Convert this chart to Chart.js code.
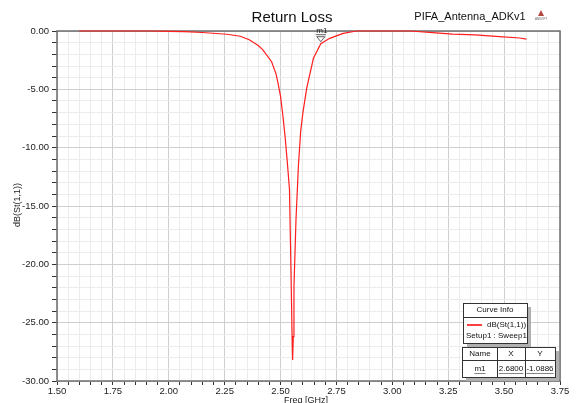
<!DOCTYPE html>
<html>
<head>
<meta charset="utf-8">
<script src="https://cdn.jsdelivr.net/npm/chart.js@4/dist/chart.umd.min.js"></script>
<style>
  html, body { margin: 0; padding: 0; background: #fff; }
  #wrap { width: 577px; height: 403px; position: relative; }
</style>
</head>
<body>
<div id="wrap"><canvas id="s11-chart"></canvas></div>
<script>
// sweep (GHz / dB)
const freqs = [1.60, 1.70, 1.80, 1.92, 2.00, 2.07, 2.15, 2.26, 2.32, 2.36, 2.40, 2.42, 2.46, 2.48, 2.49,
  2.50, 2.51, 2.52, 2.53, 2.54, 2.546, 2.552, 2.554, 2.557, 2.56, 2.569, 2.58, 2.59, 2.60, 2.617,
  2.647, 2.68, 2.72, 2.78, 2.84, 2.95, 3.08, 3.18, 3.27, 3.37, 3.48, 3.57, 3.60];
const s11 = [0, 0, 0, 0, -0.03, -0.06, -0.13, -0.28, -0.45, -0.75, -1.25, -1.6, -2.63, -3.7, -4.6,
  -5.6, -7.2, -9.0, -11.2, -13.6, -19.9, -26.5, -28.2, -26.2, -21.9, -16.2, -11.5, -8.6, -7.0, -4.9,
  -2.34, -1.09, -0.63, -0.2, 0, 0, 0, -0.14, -0.26, -0.34, -0.48, -0.6, -0.7];

const markerName = "m1";
const markerX = 2.68;
const markerY = -1.0886;

const xMajor = [1.50, 1.75, 2.00, 2.25, 2.50, 2.75, 3.00, 3.25, 3.50, 3.75];
const yMajor = [0, -5, -10, -15, -20, -25, -30];

const FONT = "'Liberation Sans', Arial, sans-serif";

function isMajorX(v) {
  return xMajor.some(m => Math.abs(m - v) < 1e-6);
}
function isMajorY(v) {
  return yMajor.some(m => Math.abs(m - v) < 1e-6);
}

const decorations = {
  id: "decorations",
  beforeDatasetsDraw(chart) {
    // plot frame, under the curve
    const ctx = chart.ctx;
    const area = chart.chartArea;
    ctx.save();
    ctx.strokeStyle = "#6e6e6e";
    ctx.lineWidth = 1.5;
    ctx.strokeRect(area.left, area.top, area.right - area.left, area.bottom - area.top);
    ctx.restore();
  },
  afterDraw(chart) {
    const ctx = chart.ctx;
    const xs = chart.scales.x;
    const ys = chart.scales.y;
    ctx.save();

    // title and project name
    ctx.fillStyle = "#111";
    ctx.textAlign = "center";
    ctx.textBaseline = "middle";
    ctx.font = "15px " + FONT;
    ctx.fillText("Return Loss", 292, 18);
    ctx.font = "11px " + FONT;
    ctx.fillText("PIFA_Antenna_ADKv1", 470, 17);

    // small logo
    ctx.fillStyle = "#b04a40";
    ctx.beginPath();
    ctx.moveTo(541, 10);
    ctx.lineTo(544, 16);
    ctx.lineTo(538, 16);
    ctx.closePath();
    ctx.fill();
    ctx.fillStyle = "#666";
    ctx.font = "3px " + FONT;
    ctx.fillText("ANSOFT", 541, 19);

    // axis titles
    ctx.fillStyle = "#222";
    ctx.font = "9px " + FONT;
    ctx.fillText("Freq [GHz]", 306, 401);
    ctx.save();
    ctx.translate(18, 205);
    ctx.rotate(-Math.PI / 2);
    ctx.fillText("dB(St(1,1))", 0, 0);
    ctx.restore();

    // marker
    const mx = xs.getPixelForValue(markerX);
    const my = ys.getPixelForValue(markerY);
    ctx.strokeStyle = "#333";
    ctx.lineWidth = 0.8;
    ctx.beginPath();
    ctx.moveTo(mx - 4, my - 7);
    ctx.lineTo(mx + 4, my - 7);
    ctx.lineTo(mx, my - 2);
    ctx.closePath();
    ctx.stroke();
    ctx.beginPath();
    ctx.moveTo(mx - 5, my - 9);
    ctx.lineTo(mx + 5, my - 9);
    ctx.stroke();
    ctx.fillStyle = "#222";
    ctx.font = "8px " + FONT;
    ctx.fillText(markerName, mx + 1, my - 13);

    // curve info box
    const box = (x, y, w, h) => {
      ctx.fillStyle = "#b0b0b0";
      ctx.fillRect(x + 4, y + 4, w, h);
      ctx.fillStyle = "#fff";
      ctx.fillRect(x, y, w, h);
      ctx.strokeStyle = "#333";
      ctx.lineWidth = 1;
      ctx.strokeRect(x + 0.5, y + 0.5, w, h);
    };
    box(463, 303, 64, 40);
    ctx.beginPath();
    ctx.moveTo(463, 317.5);
    ctx.lineTo(527, 317.5);
    ctx.stroke();
    ctx.fillStyle = "#111";
    ctx.font = "8px " + FONT;
    ctx.fillText("Curve Info", 495, 310);
    ctx.strokeStyle = "#ff0000";
    ctx.lineWidth = 1.5;
    ctx.beginPath();
    ctx.moveTo(467, 325);
    ctx.lineTo(482, 325);
    ctx.stroke();
    ctx.textAlign = "left";
    ctx.fillText("dB(St(1,1))", 487, 325);
    ctx.fillText("Setup1 : Sweep1", 466, 336);

    // marker table
    box(462, 347, 93, 30);
    ctx.strokeStyle = "#333";
    ctx.lineWidth = 1;
    ctx.beginPath();
    ctx.moveTo(462, 360.5);
    ctx.lineTo(555, 360.5);
    ctx.moveTo(497.5, 347);
    ctx.lineTo(497.5, 377);
    ctx.moveTo(525.5, 347);
    ctx.lineTo(525.5, 377);
    ctx.stroke();
    ctx.textAlign = "center";
    ctx.fillStyle = "#111";
    ctx.fillText("Name", 480, 354);
    ctx.fillText("X", 511, 354);
    ctx.fillText("Y", 540, 354);
    const cells = [[markerName, 480], [markerX.toFixed(4), 511], [markerY.toFixed(4), 540]];
    ctx.lineWidth = 0.6;
    cells.forEach(([t, cx]) => {
      ctx.fillText(t, cx, 369);
      const w = ctx.measureText(t).width;
      ctx.beginPath();
      ctx.moveTo(cx - w / 2, 373.5);
      ctx.lineTo(cx + w / 2, 373.5);
      ctx.stroke();
    });

    ctx.restore();
  },
};

new Chart(document.getElementById("s11-chart"), {
  type: "line",
  data: {
    datasets: [
      {
        label: "dB(St(1,1))",
        data: freqs.map((f, i) => ({ x: f, y: s11[i] })),
        borderColor: "rgb(255, 30, 30)",
        borderWidth: 1.2,
        pointRadius: 0,
        tension: 0,
        fill: false,
        clip: 3,
      },
    ],
  },
  plugins: [decorations],
  options: {
    responsive: true,
    maintainAspectRatio: false,
    animation: false,
    layout: { padding: { top: 31, right: 17, left: 0, bottom: 0 } },
    plugins: {
      legend: { display: false },
      tooltip: { enabled: false },
      title: { display: false },
    },
    scales: {
      x: {
        type: "linear",
        min: 1.5,
        max: 3.75,
        afterFit(scale) { scale.height = 22; },
        border: { display: false },
        grid: {
          color: (c) => (isMajorX(c.tick.value) ? "#cfcfcf" : "#ececec"),
          tickColor: "#333",
          tickLength: 4,
        },
        ticks: {
          stepSize: 0.05,
          autoSkip: false,
          maxRotation: 0,
          minRotation: 0,
          padding: 1,
          color: "#222",
          font: { family: FONT, size: 9.5 },
          callback: (v) => (isMajorX(v) ? v.toFixed(2) : ""),
        },
      },
      y: {
        min: -30,
        max: 0,
        afterFit(scale) { scale.width = 57; },
        border: { display: false },
        grid: {
          color: (c) => (isMajorY(c.tick.value) ? "#cfcfcf" : "#ececec"),
          tickColor: "#333",
          tickLength: 5,
        },
        ticks: {
          stepSize: 1,
          autoSkip: false,
          padding: 3,
          color: "#222",
          font: { family: FONT, size: 9.5 },
          callback: (v) => (isMajorY(v) ? v.toFixed(2) : ""),
        },
      },
    },
  },
});
</script>
</body>
</html>
